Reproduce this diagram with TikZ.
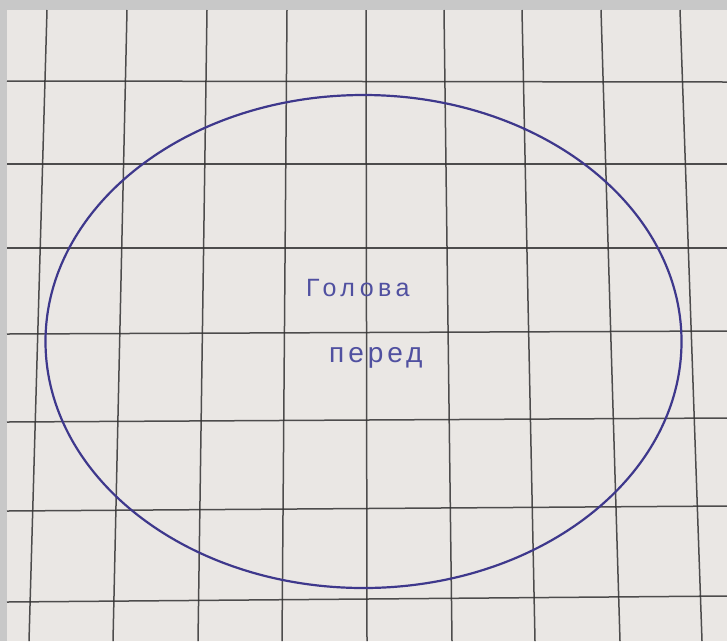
\documentclass[tikz,border=0pt]{standalone}
\usepackage{fontspec}
\setmainfont{Liberation Sans}
\definecolor{paper}{RGB}{234,231,228}
\definecolor{frame}{RGB}{200,200,200}
\definecolor{gridink}{RGB}{50,50,50}
\definecolor{pen}{RGB}{62,56,140}
\definecolor{penlight}{RGB}{80,80,160}
\tikzset{
  gridline/.style={draw=gridink, line width=1.5pt, opacity=0.85},
  penline/.style={draw=pen, line width=2.2pt},
  handtext/.style={text=penlight, inner sep=0pt, anchor=west},
}
\begin{document}
\begin{tikzpicture}[x=1pt,y=-1pt]
\useasboundingbox (0,0) rectangle (727,641);
\fill[frame] (0,0) rectangle (727,641);
\fill[paper] (7,10) rectangle (727,641);
% vertical grid lines
\foreach \xt/\xb in {47/29,127/113,207/198,287/282,366/367,444/452,522/535,601/620,680/702}
  \draw[gridline] (\xt,10) -- (\xb,641);
% horizontal grid lines
\foreach \yl/\yr in {81/82,164/164,248/248,334/331,422/418,511/506,602/596}
  \draw[gridline] (7,\yl) -- (727,\yr);
% the head outline
\draw[penline] (363.5,341.5) ellipse [x radius=318, y radius=246.5];
\node[handtext, font=\fontsize{25}{25}\selectfont\addfontfeature{LetterSpace=18}] (golova) at (306,288) {Голова};
\node[handtext, font=\fontsize{28}{28}\selectfont\addfontfeature{LetterSpace=14}] (pered) at (329,358) {перед};
\end{tikzpicture}
\end{document}
